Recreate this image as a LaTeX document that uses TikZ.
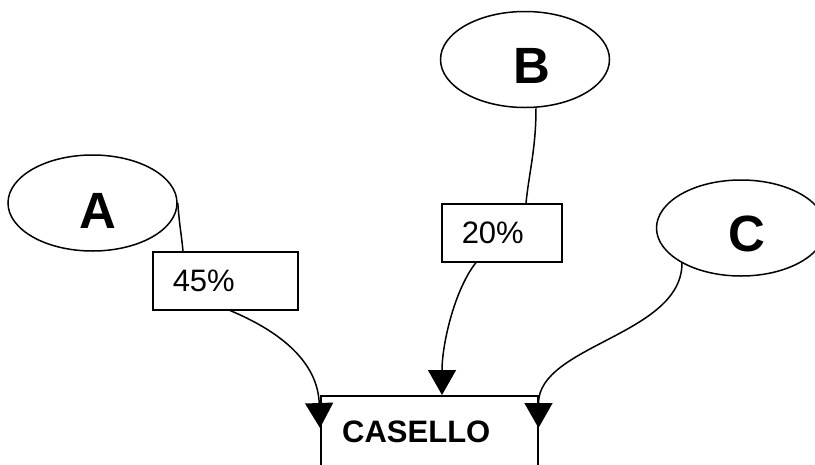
\documentclass[tikz,border=0pt]{standalone}
\usepackage{fontspec}
\setmainfont{Liberation Sans}
\usetikzlibrary{arrows.meta,shapes.geometric,positioning}
\tikzset{
  x=1pt,y=1pt,
  ell/.style={draw,ellipse,line width=1.5pt,minimum width=169pt,minimum height=96pt,inner sep=0pt},
  big/.style={font=\fontsize{51}{51}\selectfont\bfseries,anchor=base,inner sep=0pt},
  pct/.style={draw,rectangle,line width=1.5pt,minimum height=58pt,inner xsep=20pt,inner ysep=0pt,align=left,font=\fontsize{31}{31}\selectfont},
  conn/.style={line width=1.5pt},
  arr/.style={conn,-{Triangle[width=28pt,length=25pt]}},
}
\begin{document}
\begin{tikzpicture}
\useasboundingbox (0,0) rectangle (815,-464);
\clip (0,0) rectangle (815,-464);
% ellipses
\node[ell] (A) at (92.5,-203) {};
\node[big] (tA) at (98,-228) {A};
\node[ell] (B) at (525,-59.5) {};
\node[big] (tB) at (532,-83) {B};
\node[ell] (C) at (741,-228) {};
\node[big] (tC) at (747,-251) {C};
% percentage boxes
\node[pct,text width=105pt,anchor=north west] (p45) at (152,-251) {45\%};
\node[pct,text width=80pt,anchor=north west] (p20) at (441,-203) {20\%};
% casello
\node[draw,line width=1.5pt,rectangle,minimum width=217pt,minimum height=120pt,anchor=north west,inner sep=0pt] (cas) at (320,-395) {};
\node[font=\fontsize{31}{31}\selectfont\bfseries,anchor=base west,inner sep=0pt] (tcas) at (342,-442) {CASELLO};
% connectors
\coordinate (a1) at (A.east);
\coordinate (p45in) at ([xshift=31pt]p45.north west);
\coordinate (p45out) at ([xshift=78pt]p45.south west);
\coordinate (casL) at ([yshift=-33pt]cas.north west);
\coordinate (b1) at ([xshift=11pt]B.south);
\coordinate (p20in) at ([xshift=85pt]p20.north west);
\coordinate (p20out) at ([xshift=35pt]p20.south west);
\coordinate (casT) at ([xshift=122pt]cas.north west);
\coordinate (c1) at (682,-263);
\coordinate (casR) at ([yshift=-33pt]cas.north east);
\draw[conn] (a1) .. controls +(2,-25) and +(-2,20) .. (p45in);
\draw[arr] (p45out) .. controls +(60,-25) and +(-2,60) .. (casL);
\draw[conn] (b1) .. controls +(0,-40) and +(3,30) .. (p20in);
\draw[arr] (p20out) .. controls +(-22,-28) and +(0,50) .. (casT);
\draw[arr] (c1) .. controls +(0,-72) and +(0,83) .. (casR);
\end{tikzpicture}
\end{document}
